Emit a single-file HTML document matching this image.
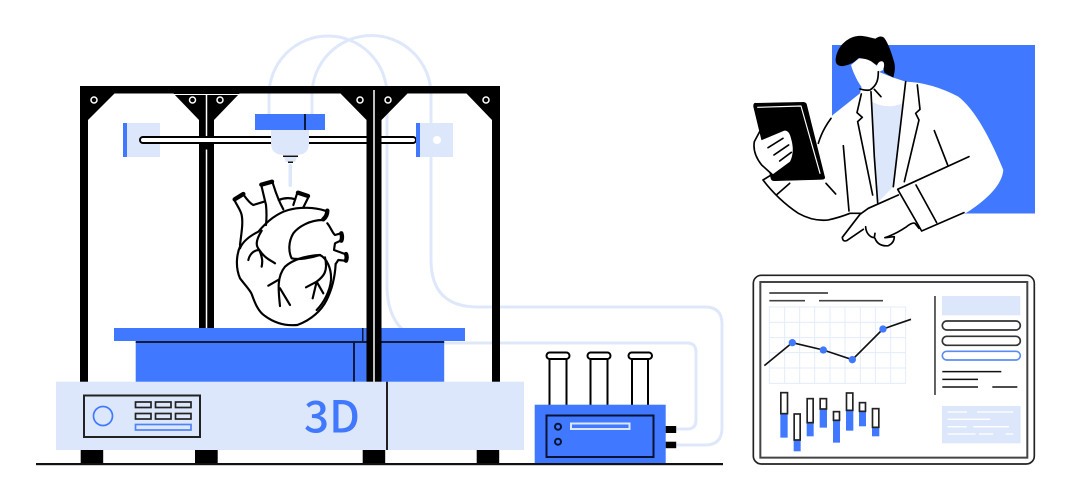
<!DOCTYPE html>
<html><head><meta charset="utf-8"><style>
html,body{margin:0;padding:0;background:#fff;width:1070px;height:500px;overflow:hidden}
svg{display:block}
</style></head><body>
<svg width="1070" height="500" viewBox="0 0 1070 500" xmlns="http://www.w3.org/2000/svg">
<!-- tubes -->
<g fill="none" stroke="#dfe8fb" stroke-width="3">
<path d="M269,114V95A59,59 0 0 1 387,95V285Q387,343 445,343H687Q696,343 696,352V420Q696,429 687,429H676"/>
<path d="M312,114V95A59,59 0 0 1 431,95V260Q431,307 478,307H705Q722,307 722,324V428Q722,445 705,445H676"/>
</g>
<!-- frame -->
<g fill="#000">
<rect x="80" y="86" width="420" height="7.500"/>
<rect x="80" y="86" width="8" height="296"/>
<rect x="492" y="86" width="8" height="296"/>
<rect x="199" y="86" width="15" height="243"/>
<polygon points="88,93 115,93 88,120"/>
<polygon points="173,93 199,120 199,93"/>
<polygon points="240,93 214,120 214,93"/>
<polygon points="340,93 366.500,120 366.500,93"/>
<polygon points="408,93 381.500,120 381.500,93"/>
<polygon points="466,93 492,120 492,93"/>
</g>
<g stroke="#fff" fill="none">
<path d="M173,94.500H239" stroke-width="1"/>
<path d="M206.500,95V330" stroke-width="1.500"/>
<g stroke-width="1.500">
<circle cx="94" cy="100" r="3"/><circle cx="192.500" cy="100" r="3"/><circle cx="220" cy="100" r="3"/>
<circle cx="360" cy="100" r="3"/><circle cx="388" cy="100" r="3"/><circle cx="486" cy="100" r="3"/>
</g>
</g>
<!-- rail blocks -->
<rect x="123" y="123" width="37" height="34" fill="#dde7fb"/>
<rect x="123" y="123" width="4" height="34" fill="#4079ff"/>
<rect x="416" y="123" width="37" height="34" fill="#dde7fb"/>
<circle cx="437" cy="140" r="4" fill="#fff"/>
<!-- rail -->
<rect x="140" y="137" width="276" height="6" rx="3" fill="#fff" stroke="#000" stroke-width="2"/>
<rect x="416" y="123" width="4" height="34" fill="#4079ff"/>
<rect x="199" y="143.500" width="15" height="6" fill="#000"/>
<rect x="366.500" y="86" width="15" height="296" fill="#000"/>
<path d="M374,90V382" stroke="#fff" stroke-width="1.500"/>
<!-- head -->
<path d="M271,130H309V143Q309,155 296,155H284Q271,155 271,143Z" fill="#dde7fb"/>
<path d="M284,157H297L295,162H286Z" fill="#dde7fb"/>
<rect x="255" y="114" width="70" height="16" fill="#4079ff"/>
<rect x="304" y="114" width="2" height="16" fill="#0b1a40"/>
<rect x="283" y="155.500" width="15" height="1.500" fill="#111"/>
<rect x="288" y="161.500" width="5" height="1.500" fill="#111"/>
<rect x="288.500" y="164" width="3.500" height="23" rx="1.700" fill="#dde7fb"/>
<!-- heart -->
<g transform="translate(220,170) scale(0.3333)" stroke="#000" stroke-width="6.500" fill="none" stroke-linejoin="round" stroke-linecap="round">
<path d="M42,88C50,105 62,120 65,135C70,160 64,190 60,225"/>
<path d="M72,76C82,90 90,100 100,105L132,95"/>
<path d="M124,46L138,105C140,125 140,145 138,165"/>
<path d="M158,38C165,60 172,85 190,118"/>
<path d="M232,68L220,105M266,80L250,112M176,90Q200,80 226,88"/>
<path d="M62,225C50,250 45,290 60,325C75,345 90,360 95,372C105,400 115,425 135,438C165,460 200,468 232,465C275,450 305,420 320,390C335,360 345,320 347,282"/>
<path d="M315,122C285,112 240,110 205,120C170,130 140,155 115,185C95,195 70,210 60,235"/>
<path d="M308,150C270,150 235,170 220,190C205,215 205,245 215,265C235,270 270,265 300,255C320,265 335,295 333,330C330,365 310,400 290,420"/>
<path d="M322,160C332,172 338,190 345,195L363,190M362,212L345,220L342,240L375,252M375,272L355,270L347,282"/>
<path d="M300,255C250,258 215,272 195,290C170,320 175,360 180,408M178,328L145,347M180,355L210,405"/>
<path d="M315,262C325,305 310,320 290,335L258,352M290,335L278,385M290,335L310,370"/>
<path d="M125,182C105,215 108,228 118,240C135,265 150,270 165,280M118,240C100,240 88,255 85,270M118,240C128,265 128,275 125,290"/>
<g stroke-width="13">
<path d="M44,88L70,72M124,44L156,35M234,68L264,78M322,122Q322,138 310,148M364,190Q368,202 364,212M378,252Q382,262 378,272"/>
</g>
</g>
<!-- bed -->
<rect x="135.700" y="342" width="308.500" height="40" fill="#4079ff"/>
<rect x="114" y="328" width="351" height="13" fill="#4079ff"/>
<rect x="135.700" y="341" width="308.500" height="2" fill="#111c3a"/>
<rect x="353" y="342" width="2" height="40" fill="#0b1a40"/>
<rect x="362" y="328" width="1.500" height="13" fill="#0b1a40"/>
<rect x="366.500" y="328" width="15" height="54" fill="#000"/>
<path d="M374,328V382" stroke="#fff" stroke-width="1.500"/>
<!-- base -->
<rect x="56" y="381.700" width="468" height="68.300" fill="#dde7fb"/>
<rect x="386" y="381.700" width="2" height="68.300" fill="#222"/>
<text x="304" y="432.500" style="font-family:'Noto Sans CJK JP','Liberation Sans',sans-serif" font-size="44" font-weight="500" fill="#4079ff">3D</text>
<rect x="84" y="395.500" width="116" height="41.500" fill="none" stroke="#222" stroke-width="2"/>
<circle cx="103" cy="416" r="9.500" fill="none" stroke="#4079ff" stroke-width="1.700"/>
<g fill="none" stroke="#222" stroke-width="1.700">
<rect x="135.500" y="402" width="15.500" height="5.500"/><rect x="155.500" y="402" width="15.500" height="5.500"/><rect x="175.500" y="402" width="15.500" height="5.500"/>
<rect x="135.500" y="413.500" width="15.500" height="5.500"/><rect x="155.500" y="413.500" width="15.500" height="5.500"/><rect x="175.500" y="413.500" width="15.500" height="5.500"/>
</g>
<rect x="135.500" y="424.500" width="55.500" height="5.500" fill="none" stroke="#4f82f5" stroke-width="1.700"/>
<!-- feet, ground -->
<g fill="#000">
<rect x="80.700" y="450" width="22.500" height="14"/><rect x="195" y="450" width="22.700" height="14"/>
<rect x="362.700" y="450" width="22.500" height="14"/><rect x="476.700" y="450" width="22.500" height="14"/>
</g>
<!-- small box -->
<g fill="#fff" stroke="#000" stroke-width="2">
<rect x="549.500" y="356" width="17" height="50"/><rect x="590.500" y="356" width="17" height="50"/><rect x="632" y="356" width="16" height="50"/>
<rect x="546.500" y="352.500" width="23" height="6.500" rx="3.200"/><rect x="587.500" y="352.500" width="23" height="6.500" rx="3.200"/><rect x="628.500" y="352.500" width="23.500" height="6.500" rx="3.200"/>
</g>
<rect x="534.700" y="404.700" width="131" height="59" fill="#4079ff"/>
<rect x="546.500" y="415.500" width="107" height="41.500" fill="none" stroke="#071235" stroke-width="2"/>
<circle cx="558" cy="426.700" r="3" fill="none" stroke="#071235" stroke-width="2"/>
<circle cx="558" cy="441.700" r="3" fill="none" stroke="#071235" stroke-width="2"/>
<rect x="571" y="423.500" width="58.500" height="5.500" fill="none" stroke="#dde7fb" stroke-width="2"/>
<rect x="665.700" y="426" width="10.500" height="7" fill="#000"/>
<rect x="665.700" y="441.700" width="10.500" height="6.500" fill="#000"/>
<rect x="36" y="463" width="687" height="2.200" fill="#111"/>

<!-- person -->
<rect x="832" y="45" width="203" height="168.500" fill="#4079ff"/>
<g transform="translate(745,30) scale(0.3333)" stroke-linecap="round" stroke-linejoin="round">
<!-- coat -->
<path d="M262,256L345,190L350,170L400,125L445,143L482,155Q560,158 640,200Q705,250 775,420Q770,480 665,548L530,603L400,640L290,625L240,572L100,500L60,450L240,400Q240,320 262,256Z" fill="#fff"/>
<path d="M380,215Q425,240 472,220L445,470L400,516Z" fill="#dde7fb"/>
<!-- hair -->
<path d="M272,92C272,70 285,42 310,28C325,18 345,15 365,20C378,23 385,25 392,26C400,18 412,17 418,24C430,40 440,70 448,98C452,115 448,130 445,143L418,128L412,95L395,105L370,90C355,85 345,84 340,85C330,95 315,105 295,108C280,110 272,102 272,92Z" fill="#000"/>
<!-- face -->
<path d="M318,105C325,100 335,90 342,85C355,85 370,88 380,95L396,108C398,98 405,93 412,94C420,96 418,112 414,120L402,126L398,155L375,180L355,178C340,160 325,130 318,105Z" fill="#fff"/>
<g fill="none" stroke="#000" stroke-width="5">
<path d="M400,125C400,145 398,165 375,180C365,182 355,180 345,177M388,178L408,200"/>
<path d="M349,192L336,248L352,262L338,275L383,495"/>
<path d="M378,185L388,380L398,518"/>
<path d="M482,155L465,300L445,470"/>
<path d="M517,165L525,238L512,250L522,270L478,455"/>
<path d="M568,302L608,405"/>
<path d="M672,380L458,478L530,603L657,548"/>
<path d="M513,465L575,578"/>
<path d="M295,347L312,543"/>
<path d="M243,460L272,492M134,460L94,495"/>
<path d="M54,450L80,434M54,450Q100,510 160,550Q205,575 250,570Q285,562 315,550L350,550"/>
<path d="M258,265Q232,300 220,340"/>
</g>
<!-- tablet -->
<path d="M34,220Q25,218 26,230L78,445Q80,453 90,452L232,448Q242,447 238,438L184,222Q180,216 172,217Z" fill="#000" stroke="#000" stroke-width="2"/>
<path d="M38,232L168,228L225,430" fill="none" stroke="#fff" stroke-width="3.500"/>
<!-- tablet hand -->
<path d="M44,305L28,335Q22,370 50,405L82,434L135,395Q150,365 138,325Q132,300 118,302L39,335Z" fill="#fff"/>
<path d="M44,305L28,335Q22,370 50,405L82,434" fill="none" stroke="#000" stroke-width="5"/>
<path d="M69,353L114,325M87,375L131,345M104,393L139,367" fill="none" stroke="#000" stroke-width="5"/>
<!-- pointing hand -->
<path d="M460,495L370,535L345,553L292,625Q293,636 305,632L355,598L372,622L390,625L405,645Q420,652 435,645L448,632L450,623L485,590L510,580L522,595Z" fill="#fff"/>
<g fill="none" stroke="#000" stroke-width="5">
<path d="M460,495L370,535L345,553L292,622Q293,636 305,632L355,598"/>
<path d="M362,590C362,605 372,622 388,623L390,610"/>
<path d="M390,625C395,640 410,650 430,647C445,640 448,630 448,620L420,623"/>
<path d="M420,623C450,613 470,600 485,590C495,582 505,578 510,580L522,595"/>
</g>
</g>

<!-- dashboard -->
<g transform="translate(745,270) scale(0.3333)">
<rect x="25" y="16" width="843" height="566" rx="24" fill="#fff" stroke="#222" stroke-width="5"/>
<rect x="46" y="36" width="801" height="527" fill="#fff" stroke="#444" stroke-width="6"/>
<g stroke="#e3ebfb" stroke-width="3" fill="none">
<path d="M73,111H482V340H73Z"/>
<path d="M119,111V340M164,111V340M209,111V340M255,111V340M300,111V340M346,111V340M391,111V340M437,111V340"/>
<path d="M73,157H482M73,203H482M73,248H482M73,294H482"/>
</g>
<polyline points="58,287 142,218 235,240 322,269 414,177 498,148" fill="none" stroke="#111" stroke-width="5"/>
<g fill="#4079ff"><circle cx="142" cy="218" r="11"/><circle cx="235" cy="240" r="11"/><circle cx="322" cy="269" r="11"/><circle cx="414" cy="177" r="11"/></g>
<g stroke="#444" stroke-width="5" fill="none">
<path d="M73,69H249M73,92H180M222,92H414M570,78V375"/>
</g>
<rect x="591" y="78" width="235" height="58" fill="#dde7fb"/>
<g fill="#fff" stroke-width="5">
<rect x="592" y="153" width="234" height="27" rx="13.500" stroke="#333"/>
<rect x="592" y="199" width="234" height="27" rx="13.500" stroke="#333"/>
<rect x="592" y="244" width="234" height="26" rx="13" stroke="#5b8cf5"/>
</g>
<g stroke="#111" stroke-width="4.500" fill="none">
<path d="M592,305H769M592,328H699M592,351H699M742,351H817"/>
</g>
<rect x="591" y="408" width="236" height="112" fill="#dde7fb"/>
<g stroke="#fff" stroke-width="4" fill="none">
<path d="M608,426H666M696,426H805M608,448H736M608,470H665M685,470H792M608,492H692M702,492H744M782,492H805"/>
</g>
<g fill="#4079ff">
<rect x="106" y="431" width="22" height="72"/><rect x="146" y="510" width="21" height="34"/><rect x="185" y="458" width="21" height="41"/>
<rect x="224" y="417" width="22" height="56"/><rect x="264" y="451" width="21" height="67"/><rect x="303" y="421" width="22" height="61"/>
<rect x="342" y="424" width="21" height="45"/><rect x="381" y="472" width="22" height="27"/>
</g>
<g fill="#fff" stroke="#222" stroke-width="5">
<rect x="107.500" y="368" width="20" height="63"/><rect x="147.500" y="432" width="18" height="78"/><rect x="186.500" y="386" width="18" height="72"/>
<rect x="225.500" y="386" width="19" height="31"/><rect x="265.500" y="425" width="18" height="26"/><rect x="304.500" y="369" width="19" height="52"/>
<rect x="343.500" y="398" width="18" height="26"/><rect x="382.500" y="416" width="19" height="56"/>
</g>
</g>
</svg>
</body></html>
